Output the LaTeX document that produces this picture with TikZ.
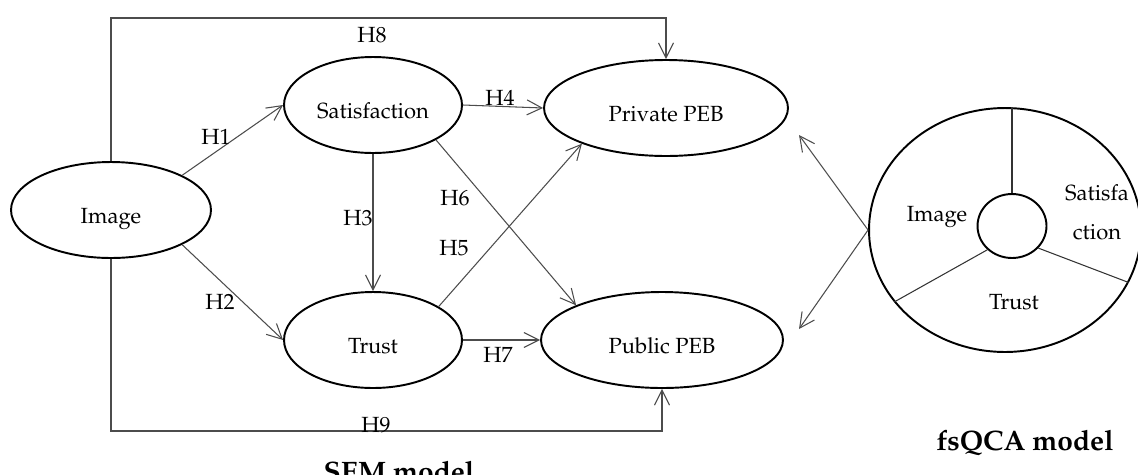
\documentclass[tikz,border=0pt]{standalone}
\usepackage[T1]{fontenc}
\usepackage{mathpazo}
\usetikzlibrary{shapes.geometric,arrows.meta}

\begin{document}
\begin{tikzpicture}
    [   x=0.02cm,y=-0.02cm,
        latent/.style={draw=black,line width=1.1pt,ellipse,inner sep=0pt,minimum height=1.92cm,minimum width=#1,
                       text height=15pt,text depth=0pt,font=\fontsize{12.5}{15}\selectfont},
        hyparrow/.style={draw=black!70,line width=0.6pt,-{Straight Barb[length=3mm,width=3mm]}},
        hyp/.style={font=\fontsize{12.5}{15}\selectfont},
        slice/.style={draw=black!80,line width=0.6pt},
        modeltitle/.style={font=\fontsize{16}{19}\selectfont\bfseries},
    ]
        \useasboundingbox (0,0) rectangle (1138,474);
        % SEM model
        \node[latent=4cm] (img) at (111,210) {Image};
        \node[latent=3.56cm] (sat) at (373,105) {Satisfaction};
        \node[latent=3.56cm] (tru) at (373,340) {Trust};
        \node[latent=4.88cm] (pvt) at (666,108) {Private PEB};
        \node[latent=4.84cm] (pub) at (662,340) {Public PEB};
        \coordinate (h8corner) at (666,18);
        \coordinate (h9corner) at (662,431);
        \draw[hyparrow] (img.26) -- (sat.west);
        \draw[hyparrow] (img.-26) -- (tru.west);
        \draw[hyparrow] (sat.south) -- (tru.north);
        \draw[hyparrow] (sat.east) -- (pvt.west);
        \draw[hyparrow] (tru.27) -- (pvt.203);
        \draw[hyparrow] (sat.-29) -- (pub.158);
        \draw[hyparrow] (tru.east) -- (pub.west);
        \draw[hyparrow] (img.north) |- (h8corner) -- (pvt.north);
        \draw[hyparrow] (img.south) |- (h9corner) -- (pub.south);
        \foreach \h/\x/\y in {1/216/137,2/220/302,3/358/218,4/500/98,5/454/248,6/455/198,7/498/355,8/372/35,9/376/425}
        {   \node[hyp] (h\h) at (\x,\y) {H\h};
        }
        \node[modeltitle,anchor=base] (semtitle) at (399,481) {SEM model};
        % fsQCA model
        \node[draw=black,line width=1.1pt,ellipse,inner sep=0pt,minimum width=5.44cm,minimum height=4.88cm] (fsq) at (1005,230) {};
        \node[draw=black,line width=1.1pt,ellipse,inner sep=0pt,minimum width=1.38cm,minimum height=1.28cm] (core) at (1012,226) {};
        \draw[slice] (core.north) -- (core.north |- fsq.north);
        \draw[slice] (core.224) -- (fsq.213);
        \draw[slice] (core.320) -- (fsq.337);
        \node[hyp] (fimg) at (937,217) {Image};
        \node[hyp,align=center,font=\fontsize{12.5}{22}\selectfont] (fsat) at (1097,212) {Satisfa\\ction};
        \node[hyp] (ftru) at (1014,302) {Trust};
        \node[modeltitle,anchor=base] (fsqtitle) at (1025,450) {fsQCA model};
        \coordinate (topvt) at (799,135);
        \coordinate (topub) at (799,329);
        \draw[hyparrow] (fsq.west) -- (topvt);
        \draw[hyparrow] (fsq.west) -- (topub);
    \end{tikzpicture}
\end{document}
